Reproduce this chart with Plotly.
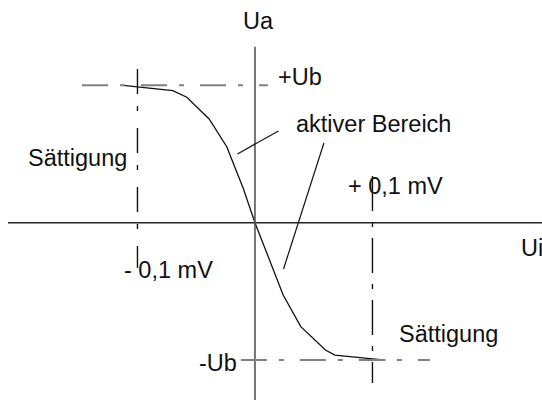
import plotly.graph_objects as go

# Open-loop transfer characteristic of an operational amplifier
# Ui: differential input voltage in µV, Ua: output voltage relative to Ub
ui_uv = [-112, -70, -58, -39, -24, -10, 0, 10, 24, 39, 60, 68, 98, 111]
ua_rel = [1.0, 0.961, 0.913, 0.755, 0.553, 0.250, 0.0,
          -0.223, -0.527, -0.757, -0.927, -0.964, -0.988, -1.0]

# Boundaries of the active region (±0.1 mV) and supply rails (±Ub)
ui_limits = [-100, 100]
ub_levels = [1.0, -1.0]

FONT = "Liberation Sans, Arial, sans-serif"
FS = 23.5

# Axis ranges (µV / relative Ua)
X_RANGE = [-217.0, 244.3]
Y_RANGE = [-1.291, 1.621]

fig = go.Figure()

fig.add_trace(go.Scatter(
    x=ui_uv, y=ua_rel, mode="lines",
    line=dict(color="#111111", width=1.3),
    hoverinfo="skip", showlegend=False,
))

shapes = []

# Coordinate axes
shapes.append(dict(type="line", xref="x", yref="y", x0=-210.2, x1=X_RANGE[1],
                   y0=0, y1=0, line=dict(color="#222222", width=1.5)))
shapes.append(dict(type="line", xref="x", yref="y", x0=0, x1=0,
                   y0=1.281, y1=Y_RANGE[0], line=dict(color="#555555", width=1.6)))

# Saturation levels +Ub / -Ub (dash-dot, grey)
rail_dash = "26px,12px,5px,16px"
shapes.append(dict(type="line", xref="x", yref="y", x0=-147.2, x1=11.0,
                   y0=ub_levels[0], y1=ub_levels[0],
                   line=dict(color="#808080", width=2, dash=rail_dash)))
shapes.append(dict(type="line", xref="x", yref="y", x0=-12.0, x1=148.9,
                   y0=ub_levels[1], y1=ub_levels[1],
                   line=dict(color="#808080", width=2, dash=rail_dash)))

# Limits of the active region at ±0.1 mV (dash-dot, black)
shapes.append(dict(type="line", xref="x", yref="y", x0=ui_limits[0], x1=ui_limits[0],
                   y0=1.119, y1=-0.33,
                   line=dict(color="#111111", width=1.4, dash="25px,12px,5px,17px")))
shapes.append(dict(type="line", xref="x", yref="y", x0=ui_limits[1], x1=ui_limits[1],
                   y0=0.34, y1=-1.167,
                   line=dict(color="#111111", width=1.4, dash="35px,11px,5px,11px")))

# Leader lines for "aktiver Bereich"
leaders = [((-14.9, 0.50), (20.0, 0.668)),
           ((58.7, 0.580), (24.3, -0.337))]
for (xa, ya), (xb, yb) in leaders:
    shapes.append(dict(type="line", xref="x", yref="y", x0=xa, y0=ya, x1=xb, y1=yb,
                       line=dict(color="#111111", width=1.2)))

labels = [
    ("Ua", 3.0, 1.466, "center"),
    ("+Ub", 17.9, 1.061, "left"),
    ("aktiver Bereich", 33.2, 0.721, "left"),
    ("Sättigung", -194.9, 0.471, "left"),
    ("+ 0,1 mV", 77.2, 0.267, "left"),
    ("Ui", 224.7, -0.184, "left"),
    ("- 0,1 mV", -112.9, -0.347, "left"),
    ("Sättigung", 121.1, -0.8125, "left"),
    ("-Ub", -49.4, -1.021, "left"),
]
annotations = [
    dict(text=t, x=x, y=y, xref="x", yref="y", xanchor=a, yanchor="middle",
         showarrow=False, font=dict(family=FONT, size=FS, color="#111111"))
    for t, x, y, a in labels
]

fig.update_layout(
    width=542, height=400,
    margin=dict(l=0, r=0, t=0, b=0),
    paper_bgcolor="white", plot_bgcolor="white",
    xaxis=dict(range=X_RANGE, visible=False, fixedrange=True),
    yaxis=dict(range=Y_RANGE, visible=False, fixedrange=True),
    shapes=shapes, annotations=annotations,
    showlegend=False,
)

fig.write_html("out.html")
